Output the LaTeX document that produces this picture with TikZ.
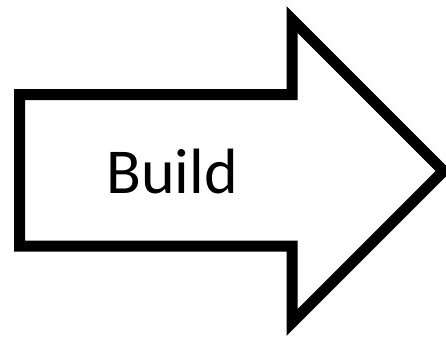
\documentclass[tikz,border=0pt]{standalone}
\usepackage{fontspec}
\setmainfont{Carlito}
\usepackage{tikz}
\usetikzlibrary{positioning}

\begin{document}
\begin{tikzpicture}[
  x=0.75pt, y=-0.75pt,
  outline/.style={draw=black, line width=8.25pt, miter limit=10, fill=white},
  label/.style={font=\fontsize{48}{58}\selectfont, inner sep=0pt, anchor=base}
]
\useasboundingbox (0,0) rectangle (446,336);
\draw[outline] (19.5,94.5) -- (292,94.5) -- (292,19.5) -- (443.5,171)
  -- (292,322.5) -- (292,246) -- (19.5,246) -- cycle;
\node[label] (build) at (172,193.3) {Build};
\end{tikzpicture}
\end{document}
